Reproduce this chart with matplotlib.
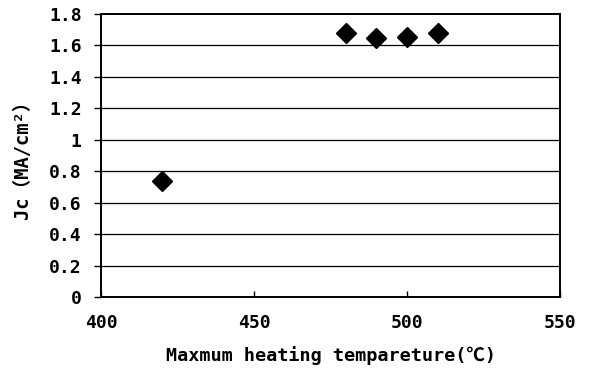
import matplotlib.pyplot as plt

# data
temps = [420, 480, 490, 500, 510]
jc = [0.74, 1.68, 1.645, 1.655, 1.68]

xticks = [400, 450, 500, 550]
yticks = [0, 0.2, 0.4, 0.6, 0.8, 1, 1.2, 1.4, 1.6, 1.8]
ylabels = ['0', '0.2', '0.4', '0.6', '0.8', '1', '1.2', '1.4', '1.6', '1.8']

fonts = ['DejaVu Sans Mono', 'Noto Sans CJK JP']
plt.rcParams['font.family'] = fonts
plt.rcParams['font.weight'] = 'bold'

fig = plt.figure(figsize=(5.89, 3.72), dpi=100)
ax = fig.add_axes([101 / 589, 1 - 297 / 372, 459 / 589, 283 / 372])

ax.plot(temps, jc, linestyle='none', marker='D', markersize=10,
        color='black', zorder=3)

ax.set_xlim(400, 550)
ax.set_ylim(0, 1.8)
ax.set_xticks(xticks)
ax.set_yticks(yticks)
ax.set_yticklabels(ylabels)
for y in yticks[1:-1]:
    ax.axhline(y, color='black', lw=0.9, zorder=1)

for s in ax.spines.values():
    s.set_linewidth(1.4)
ax.tick_params(axis='x', direction='in', length=4, width=1, pad=12,
               labelsize=13)
ax.tick_params(axis='y', direction='out', length=5, width=1, pad=9,
               labelsize=13)

ax.set_xlabel('Maxmum heating tempareture(℃)', fontsize=13.3, labelpad=10,
              fontweight='bold')
ax.set_ylabel('Jc（MA/cm²）', fontsize=13.5, labelpad=12, fontweight='bold')

fig.savefig('out.png', dpi=100)
